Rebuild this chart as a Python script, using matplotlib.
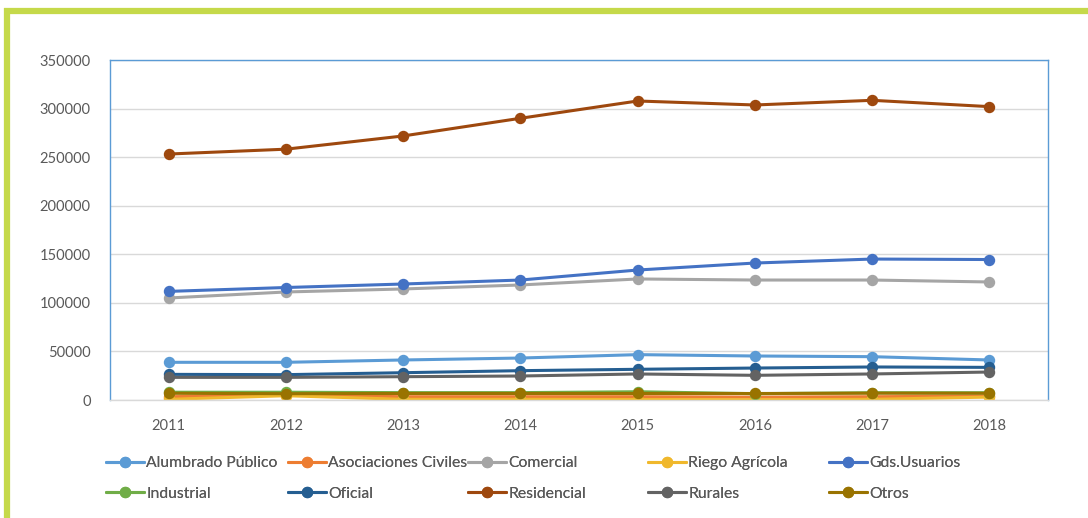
import matplotlib
matplotlib.use('Agg')
import matplotlib.pyplot as plt
from matplotlib.lines import Line2D

plt.rcParams['font.family'] = ['Lato', 'DejaVu Sans']

years = [2011, 2012, 2013, 2014, 2015, 2016, 2017, 2018]

alumbrado = [38800, 38800, 41200, 43200, 46700, 45300, 44600, 41200]
asociaciones = [3400, 5000, 3400, 3400, 3400, 3000, 3400, 4000]
comercial = [105000, 111200, 114300, 118400, 124600, 123500, 123500, 121500]
riego = [700, 4400, 700, 700, 500, 300, 700, 3000]
gds_usuarios = [111800, 115800, 119400, 123500, 133800, 141000, 145100, 144600]
industrial = [8000, 8000, 7600, 7600, 8500, 6500, 7500, 7500]
oficial = [26400, 26100, 28100, 30200, 31600, 32900, 34000, 33600]
residencial = [253200, 258200, 271800, 290000, 307800, 303700, 308500, 302000]
rurales = [23300, 23300, 24000, 24700, 26800, 25400, 26800, 28800]
otros = [6900, 6500, 6700, 6700, 6700, 6700, 7000, 6900]

series = [
    ('Alumbrado Público', alumbrado, '#5B9BD5'),
    ('Asociaciones Civiles', asociaciones, '#ED7D31'),
    ('Comercial', comercial, '#A5A5A5'),
    ('Riego Agrícola', riego, '#F0B82C'),
    ('Gds.Usuarios', gds_usuarios, '#4472C4'),
    ('Industrial', industrial, '#70AD47'),
    ('Oficial', oficial, '#255E91'),
    ('Residencial', residencial, '#9E480E'),
    ('Rurales', rurales, '#636363'),
    ('Otros', otros, '#997300'),
]

text_color = '#595959'

fig = plt.figure(figsize=(10.88, 5.18), dpi=100)
ax = fig.add_axes([110 / 1088, 1 - 400 / 518, 938 / 1088, 340 / 518])

handles = []
for name, values, color in series:
    h, = ax.plot(years, values, color=color, lw=2.2, marker='o', ms=7.2,
                 label=name, solid_capstyle='round')
    handles.append(h)

ax.set_xlim(2010.5, 2018.5)
ax.set_ylim(0, 350000)
ax.set_yticks(range(0, 350001, 50000))
ax.set_xticks(years)
ax.grid(axis='y', color='#D9D9D9', lw=1)
ax.set_axisbelow(True)
ax.tick_params(length=0, labelsize=10.5, labelcolor=text_color)
ax.tick_params(axis='x', pad=14)
ax.tick_params(axis='y', pad=14)
for side in ['left', 'top', 'right']:
    ax.spines[side].set_color('#5B9BD5')
    ax.spines[side].set_linewidth(1)
ax.spines['bottom'].set_color('#D9D9D9')
ax.spines['bottom'].set_linewidth(1)

# legend: five evenly spaced columns, two rows
col_x = [100, 282, 462, 642, 823]
for i, x in enumerate(col_x):
    pair = [handles[i], handles[i + 5]]
    lg = fig.legend(pair, [h.get_label() for h in pair], loc='upper left',
                    bbox_to_anchor=(x / 1088, 1 - 450 / 518), frameon=False,
                    fontsize=11.3, labelcolor=text_color, handlelength=2.4,
                    handletextpad=0.15, labelspacing=1.05, borderaxespad=0)
    fig.add_artist(lg)

# green frame (top and left edges only)
green = '#C5D94A'
fig.add_artist(Line2D([4 / 1088, 1], [1 - 11 / 518, 1 - 11 / 518], color=green,
                      lw=4.5, transform=fig.transFigure, solid_capstyle='butt'))
fig.add_artist(Line2D([7 / 1088, 7 / 1088], [0, 1 - 8 / 518], color=green,
                      lw=4.5, transform=fig.transFigure, solid_capstyle='butt'))

fig.savefig('out.png', dpi=100)
